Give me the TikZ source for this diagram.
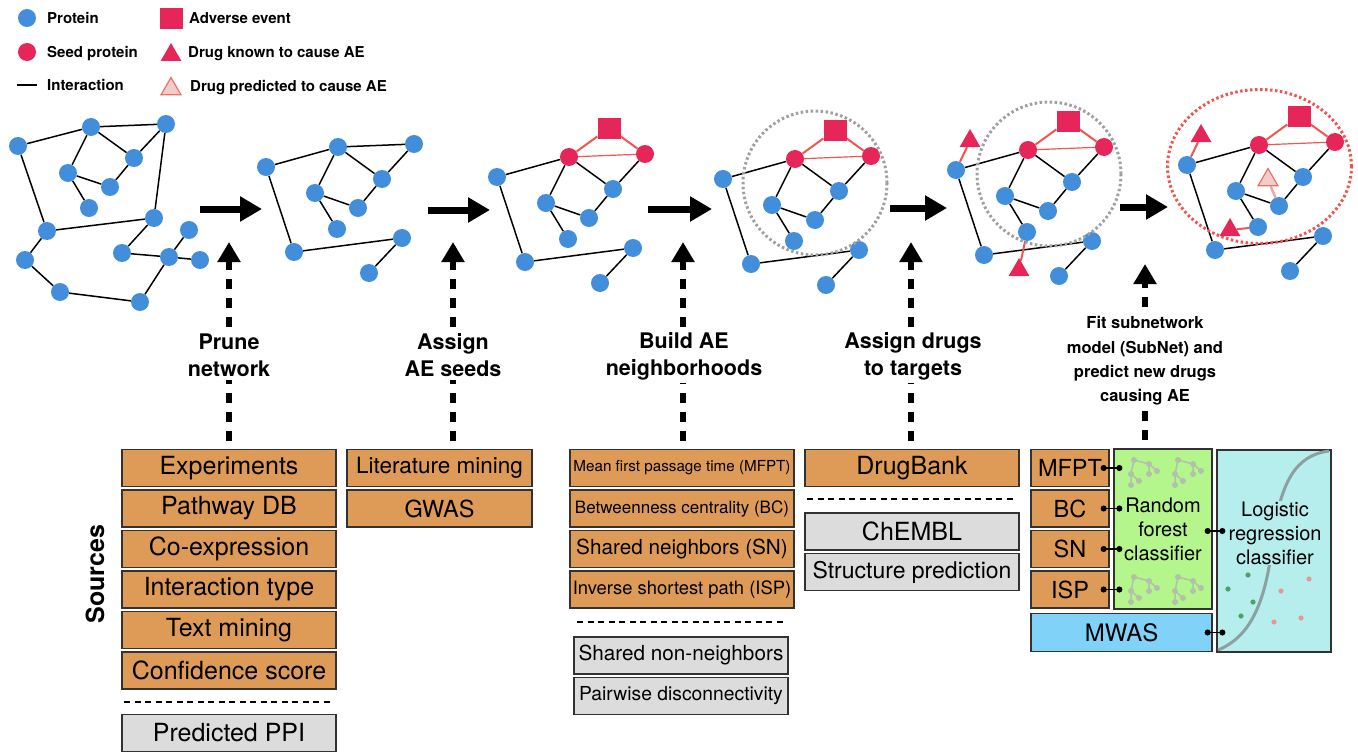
\documentclass[tikz,border=0pt]{standalone}
\usepackage{fontspec}
\setmainfont{TeX Gyre Heros}
\usetikzlibrary{positioning, shapes.geometric, arrows.meta, calc, backgrounds}

\definecolor{protblue}{RGB}{66,142,218}
\definecolor{aered}{RGB}{230,38,88}
\definecolor{edgered}{RGB}{240,85,80}
\definecolor{predfill}{RGB}{242,205,200}
\definecolor{predline}{RGB}{238,110,100}
\definecolor{predlink}{RGB}{242,165,160}
\definecolor{srcorange}{RGB}{222,155,88}
\definecolor{altgray}{RGB}{220,220,220}
\definecolor{boxedge}{RGB}{50,50,50}
\definecolor{rfgreen}{RGB}{180,245,140}
\definecolor{lrcyan}{RGB}{182,238,238}
\definecolor{mwasblue}{RGB}{128,210,248}
\definecolor{ringgray}{RGB}{160,160,160}
\definecolor{treegray}{RGB}{178,192,172}
\definecolor{ptgreen}{RGB}{80,160,100}
\definecolor{ptpink}{RGB}{232,150,150}
\definecolor{sigmoidgray}{RGB}{140,160,160}

\newcommand\fsz[2]{\fontsize{#1}{#2}\selectfont}

\tikzset{
  prot/.style={circle, fill=protblue, minimum size=18pt, inner sep=0pt},
  seed/.style={prot, fill=aered},
  aebox/.style={rectangle, fill=aered, minimum width=23pt, minimum height=21pt, inner sep=0pt},
  drug/.style={regular polygon, regular polygon sides=3, fill=aered, minimum size=24pt, inner sep=0pt},
  preddrug/.style={drug, fill=predfill, draw=predline, line width=1.2pt, minimum size=23pt},
  ppi/.style={line width=1.5pt, black},
  aelink/.style={line width=2pt, edgered},
  seedlink/.style={line width=1.2pt, edgered},
  ring/.style={ringgray, line width=3pt, dash pattern=on 2.5pt off 2.5pt},
  flow/.style={line width=7pt, -{Triangle[length=22pt, width=24pt]}},
  upflow/.style={line width=6pt, dash pattern=on 10pt off 9pt, shorten <=8pt, -{Triangle[length=20pt, width=22pt]}},
  steplbl/.style={fill=white, align=center, inner sep=3pt, font=\bfseries\fsz{21.5}{27}},
  lgtext/.style={anchor=west, inner sep=0pt, text height=11pt, text depth=0pt, font=\bfseries\fsz{15}{18}},
  srcbox/.style={rectangle, draw=boxedge, line width=1.3pt, fill=srcorange, minimum height=37pt, inner sep=0pt, font=\fsz{25}{28}},
  altbox/.style={srcbox, fill=altgray},
  sep/.style={line width=2pt, dash pattern=on 6pt off 4.5pt},
  dotlink/.style={line width=1.5pt, {Circle[length=6pt]}-{Circle[length=6pt]}},
  treeline/.style={treegray, line width=1.5pt}
}

% network after pruning, shifted; #4 = style of the two upper nodes
\newcommand\basenet[4]{%
  \begin{scope}[shift={(#1,#2)}]
    \foreach \n/\x/\y in {a/266/167, d/382/179, e/315/193, f/358/208, g/337/229, h/402/238, i/294/252, k/369/273}
      \node[prot] (#3\n) at (\x,-\y) {};
    \node[#4] (#3b) at (338,-147) {};
    \node[#4] (#3c) at (414,-144) {};
  \end{scope}
  \begin{scope}[on background layer]
    \foreach \u/\v in {a/b, b/d, c/d, b/e, e/f, d/f, e/g, a/i, i/h, h/k}
      \draw[ppi] (#3\u) -- (#3\v);
  \end{scope}
}
% same network with the adverse event and its seeds
\newcommand\aenet[3]{%
  \basenet{#1}{#2}{#3}{seed}
  \node[aebox] (#3ae) at ($(#1,#2)+(378,-118)$) {};
  \begin{scope}[on background layer]
    \draw[aelink] (#3b) -- (#3ae) -- (#3c);
    \draw[seedlink] (#3b) -- (#3c);
  \end{scope}
}
% small tree icon
\newcommand\rftree[2]{%
  \begin{scope}[shift={(#1,#2)}]
    \draw[treeline] (15,-4) -- (0,0) -- (-3,-14) -- (-3,-25) (23,-11) -- (15,-4) -- (15,-14) (-3,-14) -- (5,-21);
    \foreach \px/\py in {0/0, 15/-4, 23/-11, 15/-14, -3/-14, -3/-25, 5/-21}
      \fill[treegray] (\px,\py) circle (3);
  \end{scope}
}

\begin{document}
\begin{tikzpicture}[x=1pt, y=1pt]
\useasboundingbox (0,0) rectangle (1358,-752);

% legend
\node[prot] (lgprot) at (27,-18) {};
\node[lgtext] (lgprott) at (47,-18) {Protein};
\node[seed] (lgseed) at (27,-52) {};
\node[lgtext] (lgseedt) at (47,-52) {Seed protein};
\coordinate (lgl1) at (17,-85);
\coordinate (lgl2) at (37,-85);
\draw[ppi] (lgl1) -- (lgl2);
\node[lgtext] (lglinet) at (47,-85) {Interaction};
\node[aebox] (lgae) at (171,-19) {};
\node[lgtext] (lgaet) at (189,-18) {Adverse event};
\node[drug] (lgdrug) at (171,-55) {};
\node[lgtext] (lgdrugt) at (188,-52) {Drug known to cause AE};
\node[preddrug] (lgpred) at (171,-89) {};
\node[lgtext] (lgpredt) at (190,-86) {Drug predicted to cause AE};

% full network
\foreach \n/\x/\y in {a/18/146, b/91/127, c/166/124, d/134/158, e/68/173, f/110/187, g/89/208, h/154/218, i/47/231, j/189/230, k/122/253, l/169/257, m/200/260, n/25/260, o/60/292, p/140/302}
  \node[prot] (n1\n) at (\x,-\y) {};
\begin{scope}[on background layer]
  \foreach \u/\v in {a/b, b/c, a/i, b/e, b/d, c/d, c/h, d/f, e/f, e/g, i/h, i/n, n/o, o/p, p/l, l/k, k/h, l/j, l/m}
    \draw[ppi] (n1\u) -- (n1\v);
\end{scope}

% pruned network
\basenet{0}{0}{n2}{prot}
\begin{scope}[on background layer]
  \draw[ppi] (n2b) -- (n2c);
\end{scope}

% seeds, neighborhood, drugs
\aenet{231}{-10}{n3}
\aenet{457}{-12}{n4}
\draw[ring] (815,-183) circle (72);
\aenet{690}{-3}{n5}
\draw[ring] (1049,-174) circle (72);
\node[drug] (n5d1) at (970,-141) {};
\node[drug] (n5d2) at (1019,-270) {};
\aenet{921}{2}{n6}
\draw[ring, edgered] (1259.5,-166.5) circle[x radius=92, y radius=77];
\node[drug] (n6d1) at (1201,-136) {};
\node[drug] (n6d2) at (1230,-230) {};
\node[preddrug] (n6p) at (1268,-180) {};
\begin{scope}[on background layer]
  \draw[aelink] (n5a) -- (n5d1);
  \draw[aelink] (n5g) -- (n5d2);
  \draw[aelink] (n6a) -- (n6d1);
  \draw[aelink] (n6g) -- (n6d2);
  \draw[line width=2.5pt, predlink] (n6f) -- (n6p);
\end{scope}

% steps between networks
\foreach \k/\xa/\xb/\y in {1/200/262/209, 2/428/490/210, 3/648/712/209, 4/890/947/208, 5/1120/1168/207}{
  \coordinate (hs\k) at (\xa,-\y);
  \coordinate (he\k) at (\xb,-\y);
  \draw[flow] (hs\k) -- (he\k);
}

% sources
\node[srcbox, minimum width=214pt] (exp) at (229,-468) {Experiments};
\node[srcbox, minimum width=214pt, below=2.2pt of exp] (pdb) {Pathway DB};
\node[srcbox, minimum width=214pt, below=2.2pt of pdb] (coex) {Co-expression};
\node[srcbox, minimum width=214pt, below=2.2pt of coex] (itype) {Interaction type};
\node[srcbox, minimum width=214pt, below=2.2pt of itype] (tmine) {Text mining};
\node[srcbox, minimum width=214pt, below=2.2pt of tmine] (conf) {Confidence score};
\draw[sep] (124,-702) -- (334,-702);
\node[altbox, minimum width=214pt] (ppipred) at (229,-733) {Predicted PPI};

\node[srcbox, minimum width=185pt, font=\fsz{22.5}{26}] (lit) at (439.5,-468) {Literature mining};
\node[srcbox, minimum width=185pt, font=\fsz{23.5}{26}, below=2.2pt of lit] (gwas) {GWAS};

\node[srcbox, minimum width=224pt, font=\fsz{15.2}{18}] (c3mfpt) at (682,-468) {Mean first passage time (MFPT)};
\node[srcbox, minimum width=224pt, font=\fsz{17}{20}, below=2.2pt of c3mfpt] (c3bc) {Betweenness centrality (BC)};
\node[srcbox, minimum width=224pt, font=\fsz{20.7}{24}, below=2.2pt of c3bc] (c3sn) {Shared neighbors (SN)};
\node[srcbox, minimum width=224pt, font=\fsz{18.4}{22}, below=2.2pt of c3sn] (c3isp) {Inverse shortest path (ISP)};
\draw[sep] (577,-622) -- (787,-622);
\node[altbox, minimum width=214pt, font=\fsz{20.7}{24}] (nonnb) at (681,-655.5) {Shared non-neighbors};
\node[altbox, minimum width=214pt, font=\fsz{19.3}{22}, below=2.2pt of nonnb] (pdis) {Pairwise disconnectivity};

\node[srcbox, minimum width=214pt] (bank) at (912,-468) {DrugBank};
\draw[sep] (807,-499) -- (1017,-499);
\node[altbox, minimum width=214pt] (chembl) at (912,-531.5) {ChEMBL};
\node[altbox, minimum width=214pt, font=\fsz{23}{26}, below=2.2pt of chembl] (strpred) {Structure prediction};

% classifiers
\node[srcbox, minimum width=78pt, font=\fsz{23.5}{26}] (c5mfpt) at (1070,-468) {MFPT};
\node[srcbox, minimum width=78pt, font=\fsz{23.5}{26}, below=2.2pt of c5mfpt] (c5bc) {BC};
\node[srcbox, minimum width=78pt, font=\fsz{23.5}{26}, below=2.2pt of c5bc] (c5sn) {SN};
\node[srcbox, minimum width=78pt, font=\fsz{23.5}{26}, below=2.2pt of c5sn] (c5isp) {ISP};
\node[srcbox, fill=mwasblue, minimum width=181pt, minimum height=38pt, font=\fsz{24}{26}] (mwas) at (1121.5,-632.5) {MWAS};
\node[srcbox, fill=rfgreen, minimum width=98pt, minimum height=160pt, align=center, font=\fsz{20}{24}] (rf) at (1163,-529) {Random\\forest\\classifier};
\rftree{1134}{-460}
\rftree{1178}{-460}
\rftree{1134}{-577}
\rftree{1178}{-577}
\node[srcbox, fill=lrcyan, minimum width=114pt, minimum height=202pt] (lr) at (1274,-551) {};
\draw[sigmoidgray, line width=3pt] (1218,-650) .. controls (1252,-636) and (1266,-600) .. (1273,-540)
  .. controls (1280,-482) and (1296,-455) .. (1329,-451);
\foreach \x/\y in {1248/575, 1228/589, 1253/602, 1241/616}
  \fill[ptgreen] (\x,-\y) circle (2.6);
\foreach \x/\y in {1309/579, 1281/591, 1274/622, 1301/618}
  \fill[ptpink] (\x,-\y) circle (2.6);
\node[fill=lrcyan, align=center, inner sep=1pt, font=\fsz{20}{24}] (lrlbl) at (1275,-533) {Logistic\\regression\\classifier};

\draw[dotlink] ($(c5mfpt.east)+(-9,0)$) -- ($(rf.west |- c5mfpt.east)+(9,0)$);
\draw[dotlink] ($(c5bc.east)+(-9,0)$) -- ($(rf.west |- c5bc.east)+(9,0)$);
\draw[dotlink] ($(c5sn.east)+(-9,0)$) -- ($(rf.west |- c5sn.east)+(9,0)$);
\draw[dotlink] ($(c5isp.east)+(-9,0)$) -- ($(rf.west |- c5isp.east)+(9,0)$);
\draw[dotlink] ($(rf.east)+(-8,-2)$) -- ($(lr.west |- rf.east)+(9,-2)$);
\draw[dotlink] ($(mwas.east)+(-8,0)$) -- ($(lr.west |- mwas.east)+(9,0)$);

% steps from sources up to networks
\coordinate (up1) at (229,-242);
\coordinate (up2) at (453,-242);
\coordinate (up3) at (683,-242);
\coordinate (up4) at (911,-242);
\coordinate (up5) at (1145,-264);
\draw[upflow] (exp.north -| up1) -- (up1);
\draw[upflow] (lit.north -| up2) -- (up2);
\draw[upflow] (c3mfpt.north -| up3) -- (up3);
\draw[upflow] (bank.north -| up4) -- (up4);
\draw[upflow] (rf.north -| up5) -- (up5);

\node[steplbl] (lbprune) at (229,-355.5) {Prune\\network};
\node[steplbl] (lbseed) at (453,-355.5) {Assign\\AE seeds};
\node[steplbl] (lbhood) at (684,-356) {Build AE\\neighborhoods};
\node[steplbl] (lbdrug) at (913,-356) {Assign drugs\\to targets};
\node[steplbl, inner sep=1pt, font=\bfseries\fsz{16.5}{24.3}] (lbfit) at (1145,-361) {Fit subnetwork\\model (SubNet) and\\predict new drugs\\causing AE};

\node[rotate=90, font=\bfseries\fsz{25}{30}] (srclbl) at (95,-574) {Sources};
\end{tikzpicture}
\end{document}
